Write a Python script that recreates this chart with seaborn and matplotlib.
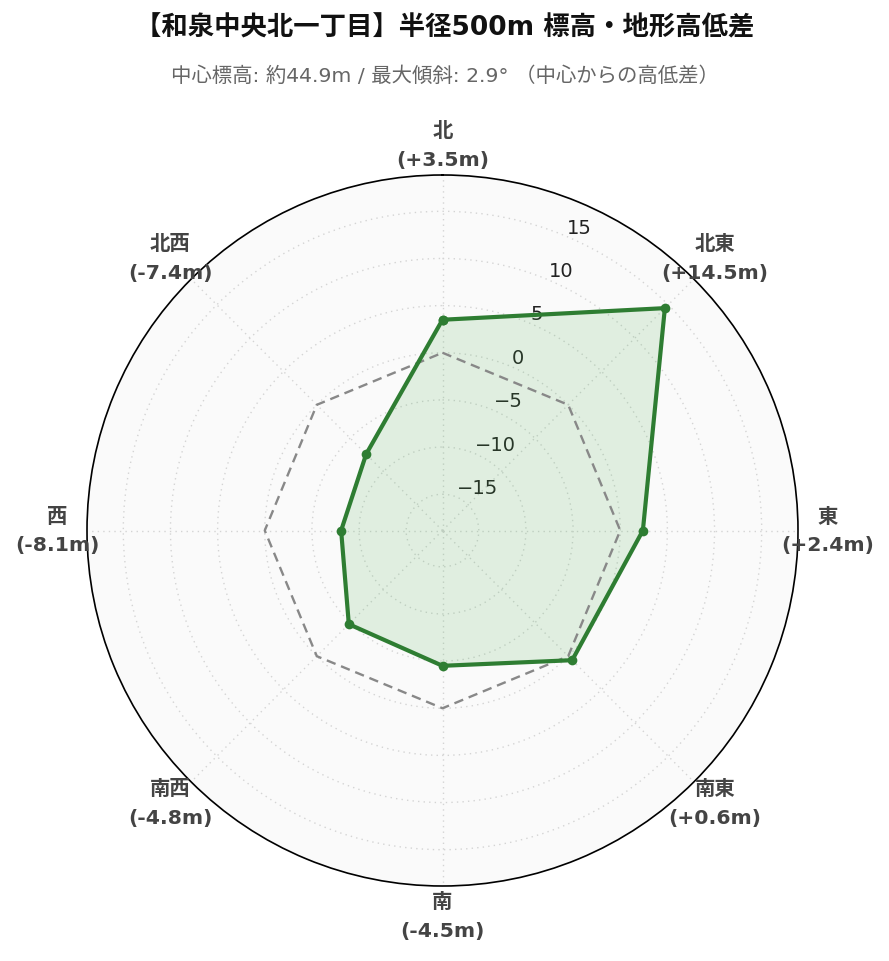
import numpy as np
import pandas as pd
import matplotlib
matplotlib.use("Agg")
import matplotlib.pyplot as plt
import seaborn as sns

directions = ["北", "北東", "東", "南東", "南", "南西", "西", "北西"]
diffs = [3.5, 14.5, 2.4, 0.6, -4.5, -4.8, -8.1, -7.4]
r_ticks = [-15, -10, -5, 0, 5, 10, 15]
title = "【和泉中央北一丁目】半径500m 標高・地形高低差"
subtitle = "中心標高: 約44.9m / 最大傾斜: 2.9° （中心からの高低差）"

sns.set_theme(style="white")
fonts = ['DejaVu Sans', 'Noto Sans CJK JP']
plt.rcParams['font.family'] = fonts

theta = np.deg2rad(np.arange(len(directions)) * 45.0)
df = pd.DataFrame({"theta": np.append(theta, 2 * np.pi),
                   "diff": diffs + diffs[:1],
                   "zero": 0.0})

rmax = max(abs(v) for v in diffs) * 1.3
rmin = -rmax

fig = plt.figure(figsize=(8.89, 9.62), dpi=100)
ax = fig.add_axes([87 / 889, 75 / 962, 711 / 889, 711 / 962], projection="polar")
ax.set_theta_zero_location("N")
ax.set_theta_direction(-1)
ax.set_facecolor("#fafafa")
ax.set_ylim(rmin, rmax)

# zero reference
ax.plot(df["theta"], df["zero"], color="#888888", lw=1.7, ls=(0, (4, 2.5)))
ax.fill(df["theta"], df["diff"], color="#4caf50", alpha=0.15, lw=0)
sns.lineplot(data=df, x="theta", y="diff", sort=False, ax=ax, color="#2e7d32",
             lw=3, marker="o", markersize=7, markeredgewidth=0)

ax.set_xticks(theta)
ax.set_xticklabels([])
ax.set_yticks(r_ticks)
ax.set_yticklabels([str(t).replace("-", "\u2212") for t in r_ticks], fontsize=14, color="#222222")
ax.set_rlabel_position(23)
ax.set_xlabel("")
ax.set_ylabel("")
ax.grid(True, linestyle=(0, (1, 3)), color="#d4d4d4", lw=1)
ax.spines["polar"].set_color("black")
ax.spines["polar"].set_linewidth(1.2)

r_lab = rmax + (rmax - rmin) * 0.084
for t, name, v in zip(theta, directions, diffs):
    ax.text(t, r_lab, f"{name}\n({v:+.1f}m)", ha="center", va="center",
            fontsize=14.7, fontweight="bold", color="#444444", linespacing=1.62,
            clip_on=False)

fig.text(0.5, 1 - 28 / 962, title, ha="center", va="center", fontsize=19,
         fontweight="bold", color="#111111")
fig.text(0.5, 1 - 76 / 962, subtitle, ha="center", va="center", fontsize=14.7,
         color="#666666")

fig.savefig("out.png", dpi=100, facecolor="white")
